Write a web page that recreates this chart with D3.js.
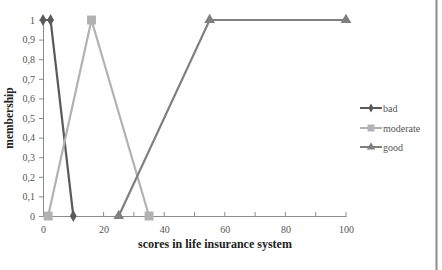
<!DOCTYPE html>
<html><head><meta charset="utf-8">
<script src="https://cdn.jsdelivr.net/npm/d3@7"></script>
<style>body{margin:0;background:#fff}svg{display:block}</style>
</head><body><svg id="c" width="442" height="270"></svg>
<script>
const badX = [0, 2.5, 10];
const badY = [1, 1, 0];
const moderateX = [1.7, 16, 35];
const moderateY = [0, 1, 0];
const goodX = [25, 55, 100];
const goodY = [0, 1, 1];
const xTicks = [0, 20, 40, 60, 80, 100];
const yTicks = [0, 0.1, 0.2, 0.3, 0.4, 0.5, 0.6, 0.7, 0.8, 0.9, 1];
const seriesNames = ["bad", "moderate", "good"];

const svg = d3.select("#c");
const x = d3.scaleLinear().domain([0, 100]).range([43, 346]);
const y = d3.scaleLinear().domain([0, 1]).range([216, 20]);
const font = "'Liberation Serif', serif";

// right frame line
svg.append("line").attr("x1", 436.5).attr("x2", 436.5).attr("y1", 0).attr("y2", 270)
  .attr("stroke", "#8c8c8c").attr("stroke-width", 2);

// y axis
const yAxis = svg.append("g").attr("transform", "translate(43,0)")
  .call(d3.axisLeft(y).tickValues(yTicks).tickSize(4).tickPadding(4)
    .tickFormat(d => d === 0 || d === 1 ? String(d) : d3.format(".1f")(d).replace(".", ",")));
yAxis.select(".domain").attr("stroke", "#8c8c8c");
yAxis.selectAll(".tick line").attr("stroke", "#8c8c8c");
yAxis.selectAll("text").attr("font-family", font).attr("font-size", 10).attr("fill", "#555");

// x axis
const xAxis = svg.append("g").attr("transform", "translate(0,216)")
  .call(d3.axisBottom(x).tickValues(xTicks).tickSize(0).tickPadding(10).tickFormat(d3.format("d")));
xAxis.select(".domain").attr("stroke", "#8c8c8c");
xAxis.selectAll("text").attr("font-family", font).attr("font-size", 10).attr("fill", "#555");
svg.append("g").selectAll("line").data(d3.range(10, 101, 10)).join("line")
  .attr("x1", d => x(d)).attr("x2", d => x(d)).attr("y1", 212).attr("y2", 217)
  .attr("stroke", "#8c8c8c");

// axis titles
svg.append("text").attr("x", 215).attr("y", 248).attr("text-anchor", "middle")
  .attr("font-family", font).attr("font-weight", "bold").attr("font-size", 12)
  .attr("fill", "#222").text("scores in life insurance system");
svg.append("text").attr("transform", "translate(13,118) rotate(-90)").attr("text-anchor", "middle")
  .attr("font-family", font).attr("font-weight", "bold").attr("font-size", 11.5)
  .attr("fill", "#222").text("membership");

const series = [
  {name: seriesNames[0], xs: badX, ys: badY, color: "#5a5a5a", shape: d3.symbolDiamond, size: 40},
  {name: seriesNames[1], xs: moderateX, ys: moderateY, color: "#b2b2b2", shape: d3.symbolSquare, size: 80},
  {name: seriesNames[2], xs: goodX, ys: goodY, color: "#7f7f7f", shape: d3.symbolTriangle, size: 50}
];
const line = d3.line().x(d => x(d[0])).y(d => y(d[1]));
series.forEach(s => {
  const pts = s.xs.map((v, i) => [v, s.ys[i]]);
  svg.append("path").attr("d", line(pts)).attr("fill", "none")
    .attr("stroke", s.color).attr("stroke-width", 2.2);
  svg.append("g").selectAll("path").data(pts).join("path")
    .attr("transform", d => `translate(${x(d[0])},${y(d[1])})`)
    .attr("d", d3.symbol().type(s.shape).size(s.size)).attr("fill", s.color);
});

// legend
const legY = [108, 128, 147];
series.forEach((s, i) => {
  const g = svg.append("g").attr("transform", `translate(0,${legY[i]})`);
  g.append("line").attr("x1", 360).attr("x2", 382).attr("stroke", s.color).attr("stroke-width", 2);
  g.append("path").attr("transform", "translate(371,0)")
    .attr("d", d3.symbol().type(s.shape).size(s.size * 0.6)).attr("fill", s.color);
  g.append("text").attr("x", 383).attr("y", 3.5).attr("font-family", font)
    .attr("font-size", 10).attr("fill", "#555").text(s.name);
});
</script></body></html>
